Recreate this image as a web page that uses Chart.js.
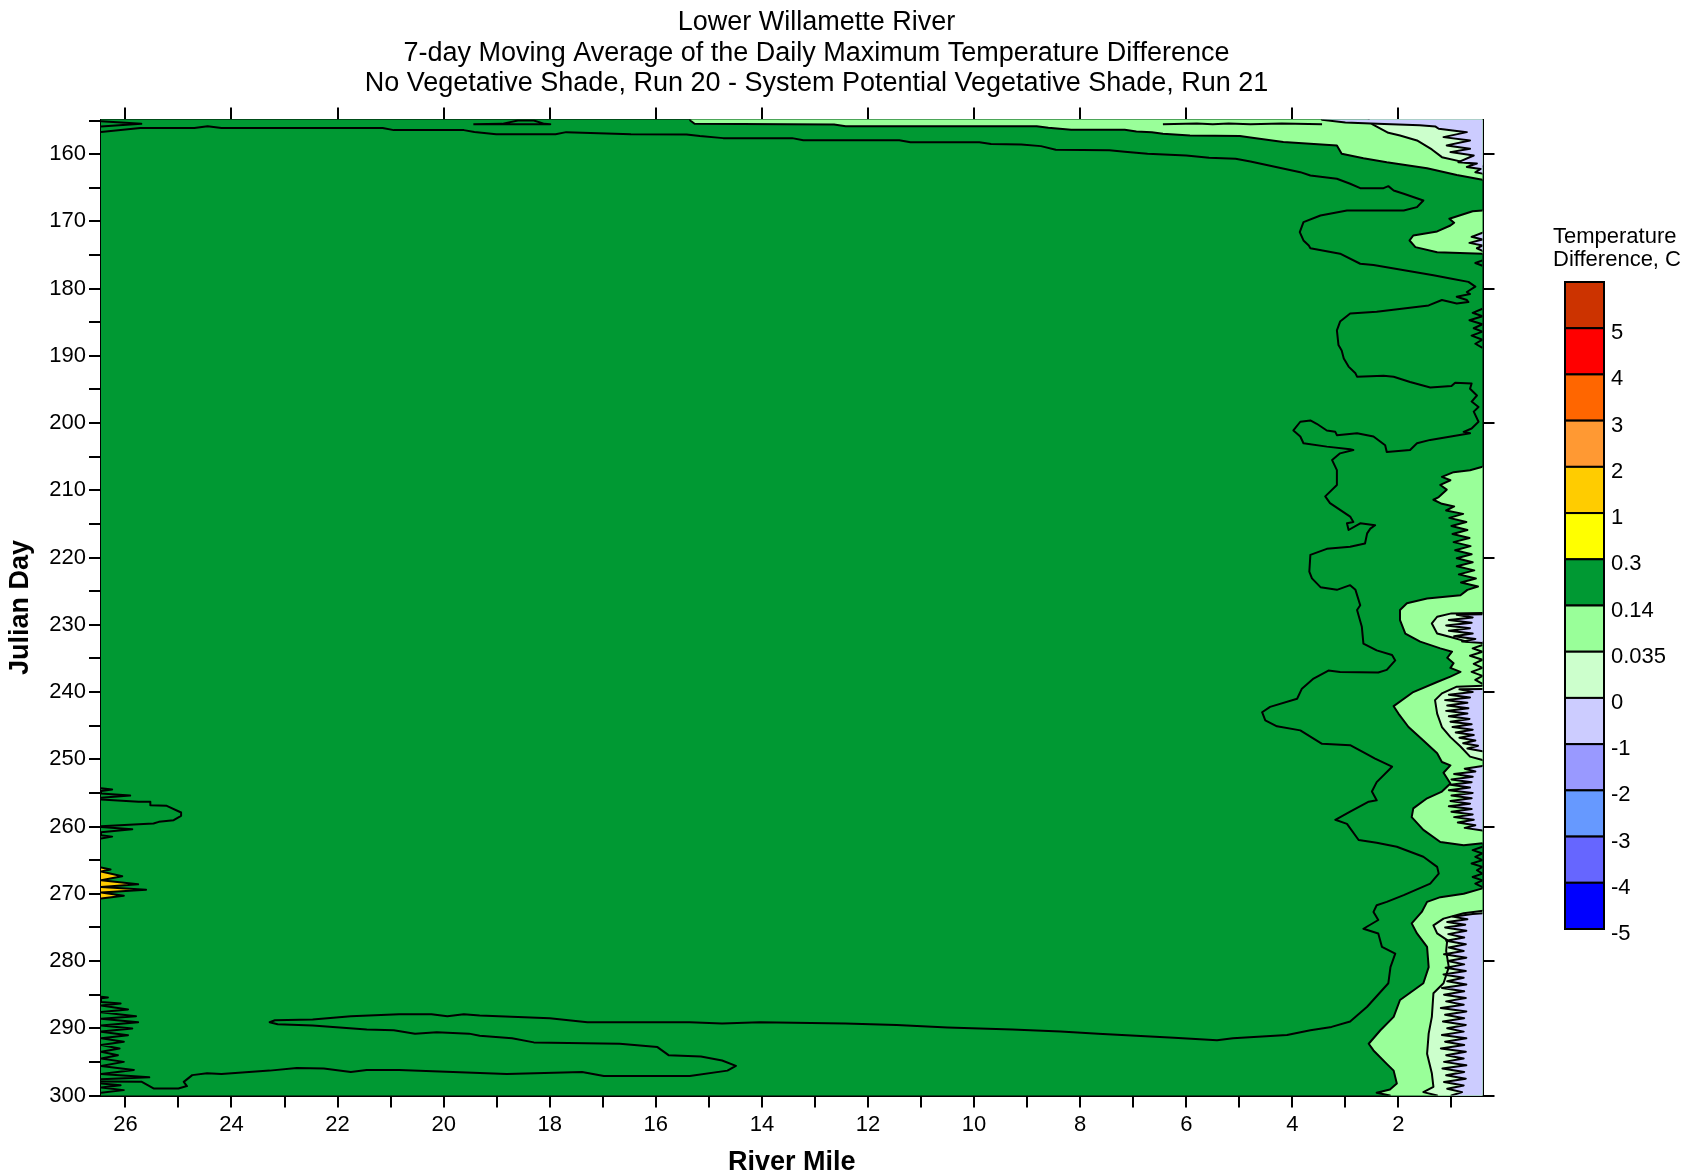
<!DOCTYPE html>
<html>
<head>
<meta charset="utf-8">
<title>Lower Willamette River</title>
<script src="https://cdn.jsdelivr.net/npm/chart.js@4.4.1/dist/chart.umd.min.js"></script>
<style>
  html, body { margin: 0; padding: 0; background: #fff; }
  #wrap { width: 1690px; height: 1176px; }
</style>
</head>
<body>
<div id="wrap"><canvas id="c" width="1690" height="1176"></canvas></div>
<script>
// ---------------- DATA (river mile, julian day) ----------------
const titleLines = [
  'Lower Willamette River',
  '7-day Moving Average of the Daily Maximum Temperature Difference',
  'No Vegetative Shade, Run 20 - System Potential Vegetative Shade, Run 21'
];
const xAxisTitle = 'River Mile';
const yAxisTitle = 'Julian Day';
const legendTitle = ['Temperature', 'Difference, C'];
const levelLabels = ['5', '4', '3', '2', '1', '0.3', '0.14', '0.035', '0', '-1', '-2', '-3', '-4', '-5'];
const levelColors = ['#CC3300', '#FF0000', '#FF6600', '#FF9933', '#FFCC00', '#FFFF00', '#009933',
                     '#99FF99', '#CCFFCC', '#CCCCFF', '#9999FF', '#6699FF', '#6666FF', '#0000FF'];
const mileRange = [0.415, 26.46];
const dayRange = [154.85, 300];

// band 0.14 - 0.3 (covers the whole domain)
const greenBase = [[26.7,153],[0.2,153],[0.2,302],[26.7,302]];

// band 0.035 - 0.14
const lightGreenTop = [[15.35,153],[15.35,155.0],[15.27,155.49],[12.64,155.58],[12.42,155.84],[8.82,155.84],[8.6,156.09],[8.17,156.39],[7.16,156.39],[6.94,156.63],[6.65,156.73],[6.44,156.98],[5.93,157.22],[4.99,157.32],[4.79,157.52],[4.17,158.2],[3.16,158.7],[3.07,159.95],[2.66,160.6],[2.22,161.2],[1.46,162.1],[0.9,163.1],[0.415,163.8],[0.2,163.9],[0.2,153]];
const lightGreenMid = [[0.2,168.3],[0.415,168.38],[0.6,168.5],[1.04,169.62],[0.95,170.2],[1.02,170.61],[1.27,171.5],[1.72,172.1],[1.79,172.84],[1.68,173.83],[1.27,174.58],[0.415,174.8],[0.2,174.8]];
const lightGreenLow1 = [[0.2,206.4],[0.415,206.5],[0.65,207.0],[0.96,207.3],[1.18,208.0],[1.02,208.5],[1.21,209.2],[1.09,209.9],[1.24,211.0],[1.34,211.4],[1.18,212.0],[0.95,212.4],[1.1,213.0],[0.78,213.5],[1.04,214.1],[0.72,214.7],[1.0,215.3],[0.7,215.9],[0.98,216.5],[0.66,217.1],[0.96,217.7],[0.64,218.3],[0.93,218.9],[0.62,219.5],[0.9,220.1],[0.6,220.7],[0.9,221.3],[0.57,221.9],[0.86,222.5],[0.54,223.1],[0.82,223.7],[0.5,224.3],[0.7,224.8],[0.83,225.6],[1.46,226.1],[1.84,226.8],[1.97,227.8],[1.97,229.3],[1.87,231.3],[1.59,232.5],[1.21,233.5],[0.99,234.0],[1.08,234.9],[0.96,235.7],[1.02,236.4],[0.83,237.0],[1.02,237.7],[1.27,238.5],[1.72,240.0],[2.09,242.1],[2.0,243.2],[1.81,245.2],[1.53,247.2],[1.27,249.1],[1.18,250.4],[1.02,250.9],[1.15,252.0],[1.02,253.6],[1.18,254.8],[1.46,255.8],[1.72,257.3],[1.75,258.6],[1.53,260.5],[1.21,262.3],[0.77,262.8],[0.415,262.5],[0.2,262.5]];
const lightGreenLow2 = [[0.2,269.1],[0.415,269.2],[0.77,270.0],[1.21,270.5],[1.46,271.2],[1.56,272.7],[1.75,274.4],[1.65,275.9],[1.46,277.9],[1.43,280.9],[1.53,283.3],[1.97,285.8],[2.09,288.3],[2.34,290.3],[2.56,292.3],[2.47,293.3],[2.22,295.3],[2.09,296.3],[2.03,298.2],[2.16,299.1],[2.41,299.6],[2.16,300],[2.1,302],[0.2,302]];

// band 0 - 0.035
const paleGreenTop = [[2.6,153],[2.55,155.2],[2.47,155.64],[2.19,156.83],[1.97,157.22],[1.65,157.97],[1.37,159.3],[1.18,160.45],[0.77,161.19],[0.415,161.8],[0.2,161.9],[0.2,153]];
const paleGreen2 = [[0.2,228.2],[1.0,228.3],[1.27,228.8],[1.37,229.8],[1.27,231.3],[1.02,231.8],[0.71,232.5],[0.2,232.6]];
const paleGreen3 = [[0.2,239.0],[0.9,239.2],[1.18,240.2],[1.31,241.2],[1.27,243.2],[1.18,245.2],[1.02,246.7],[0.83,248.1],[0.65,249.6],[0.415,250.1],[0.2,250.1]];
const paleGreen4 = [[0.2,272.3],[0.77,272.9],[1.15,273.7],[1.34,274.7],[1.27,275.9],[1.08,276.9],[1.1,278.5],[1.05,280.9],[1.15,283.3],[1.34,284.8],[1.37,288.3],[1.43,290.8],[1.46,293.8],[1.37,296.7],[1.34,298.7],[1.53,299.5],[1.27,300],[1.25,302],[0.2,302]];

// band -1 - 0
const lavenderTop = [[3.5,153],[3.44,154.9],[3.0,155.3],[2.4,155.5],[1.6,155.7],[1.3,155.9],[1.24,156.23],[0.71,156.73],[1.15,157.47],[0.65,157.97],[1.09,158.7],[0.65,159.2],[1.02,159.7],[0.58,160.2],[0.87,161.2],[0.52,161.4],[0.71,161.9],[0.45,162.2],[0.55,162.7],[0.415,162.9],[0.2,162.9],[0.2,153]];
const lavenderMid = [[0.2,171.6],[0.415,171.7],[0.62,172.3],[0.415,172.7],[0.66,173.2],[0.415,173.6],[0.52,174.0],[0.415,174.4],[0.2,174.4]];
const lavender2 = [[0.2,228.4],[0.9,228.5],[0.6,228.9],[1.05,229.3],[0.62,229.7],[1.1,230.1],[0.65,230.5],[1.05,230.9],[0.6,231.3],[0.95,231.7],[0.55,232.1],[0.8,232.5],[0.415,232.7],[0.2,232.7]];
const lavender3 = [[0.2,239.5],[0.85,239.6],[0.6,240.0],[1.05,240.4],[0.65,240.8],[1.12,241.2],[0.7,241.6],[1.08,242.0],[0.68,242.4],[1.1,242.8],[0.7,243.2],[1.05,243.6],[0.66,244.0],[1.02,244.4],[0.62,244.8],[0.98,245.2],[0.6,245.6],[0.92,246.0],[0.58,246.4],[0.85,246.8],[0.55,247.2],[0.78,247.6],[0.5,248.0],[0.7,248.4],[0.415,248.8],[0.2,248.8]];
const lavender3b = [[0.2,251.0],[0.415,251.0],[0.75,251.4],[0.55,251.8],[0.95,252.2],[0.6,252.6],[1.0,253.0],[0.62,253.4],[1.02,253.8],[0.65,254.2],[1.05,254.6],[0.6,255.0],[1.0,255.4],[0.62,255.8],[1.02,256.2],[0.65,256.6],[1.05,257.0],[0.62,257.4],[1.0,257.8],[0.6,258.2],[0.95,258.6],[0.58,259.0],[0.88,259.4],[0.55,259.8],[0.75,260.2],[0.415,260.6],[0.2,260.6]];
const lavender4 = [[0.2,272.8],[0.6,273.0],[0.98,273.4],[0.7,273.8],[1.08,274.2],[0.74,274.6],[1.12,275.0],[0.72,275.5],[1.06,276.0],[0.76,276.5],[1.1,277.0],[0.73,277.5],[1.05,278.0],[0.77,278.5],[1.14,279.0],[0.72,279.5],[1.07,280.0],[0.76,280.5],[1.11,281.0],[0.73,281.5],[1.15,282.0],[0.77,282.5],[1.08,283.0],[0.72,283.5],[1.18,284.0],[0.76,284.5],[1.14,285.0],[0.73,285.5],[1.1,286.0],[0.77,286.5],[1.2,287.0],[0.72,287.5],[1.12,288.0],[0.76,288.5],[1.16,289.0],[0.73,289.5],[1.08,290.0],[0.77,290.5],[1.18,291.0],[0.72,291.5],[1.12,292.0],[0.76,292.5],[1.2,293.0],[0.73,293.5],[1.1,294.0],[0.77,294.5],[1.14,295.0],[0.72,295.5],[1.17,296.0],[0.76,296.5],[1.1,297.0],[0.73,297.5],[1.14,298.0],[0.77,298.5],[1.08,299.0],[0.8,299.5],[1.0,300],[1.0,302],[0.2,302]];

// band 1 - 2
const goldTeeth = [[26.7,266.1],[26.46,266.1],[26.28,266.4],[26.46,266.7],[26.06,267.4],[26.46,268.0],[25.76,268.6],[26.46,269.0],[25.61,269.4],[26.46,269.8],[26.03,270.3],[26.46,270.7],[26.7,270.7]];

// contour lines inside the 0.14 - 0.3 band
const contourMain = [[26.46,156.7],[25.72,156.1],[24.7,156.1],[24.45,155.84],[24.19,156.1],[21.15,156.1],[20.94,156.43],[19.62,156.43],[19.42,156.7],[19.01,157.03],[17.89,157.03],[17.69,156.73],[16.47,157.03],[15.42,157.07],[15.17,157.32],[14.73,157.62],[13.43,157.62],[13.22,157.92],[11.41,157.92],[11.2,158.22],[9.9,158.22],[9.68,158.51],[9.11,158.56],[8.74,158.81],[8.46,159.36],[7.45,159.41],[7.16,159.66],[6.73,159.96],[6.0,160.2],[5.57,160.55],[5.07,160.7],[4.79,161.09],[3.85,162.68],[3.66,163.17],[3.16,163.67],[2.91,164.41],[2.72,165.06],[2.28,165.06],[2.19,164.76],[2.09,165.4],[1.9,165.9],[1.53,166.89],[1.65,167.88],[1.9,168.38],[2.97,168.38],[3.47,169.12],[3.79,170.11],[3.86,171.6],[3.79,172.84],[3.69,173.6],[3.66,174.0],[3.1,174.8],[2.72,176.3],[2.47,176.5],[1.34,178.0],[1.02,178.5],[0.68,179.0],[0.55,179.7],[0.71,180.5],[0.65,180.8],[0.9,181.2],[0.71,181.7],[0.68,182.0],[0.9,182.2],[1.18,181.7],[1.43,182.5],[2.41,183.45],[2.91,183.7],[3.1,184.9],[3.16,186.2],[3.13,188.4],[3.07,189.2],[3.03,190.4],[2.94,191.6],[2.81,192.6],[2.78,193.1],[2.28,192.97],[2.09,193.1],[1.78,193.9],[1.4,194.7],[1.0,194.5],[0.93,194.0],[0.62,194.1],[0.65,194.9],[0.52,195.9],[0.62,196.8],[0.49,197.6],[0.58,198.3],[0.49,199.8],[0.62,200.8],[0.77,201.3],[0.65,201.5],[1.4,202.5],[1.65,203.0],[1.78,204.0],[2.22,204.3],[2.25,203.3],[2.47,202.0],[2.78,201.5],[3.16,201.8],[3.19,201.3],[3.35,201.1],[3.54,200.1],[3.66,199.6],[3.85,199.8],[3.98,201.1],[3.85,202.0],[3.79,203.0],[3.35,203.5],[2.91,203.9],[2.85,204.0],[3.1,204.5],[3.25,205.5],[3.16,207.0],[3.16,209.2],[3.38,210.9],[3.29,211.9],[2.91,213.9],[2.85,214.7],[2.97,214.9],[2.94,215.9],[2.72,214.9],[2.44,215.2],[2.53,215.7],[2.59,216.4],[2.63,217.9],[2.91,218.4],[3.35,218.7],[3.66,219.6],[3.68,222.1],[3.63,223.1],[3.47,224.4],[3.16,224.8],[2.91,224.1],[2.81,224.8],[2.72,227.1],[2.78,227.8],[2.69,230.3],[2.66,232.8],[2.41,233.8],[2.12,234.5],[2.06,235.3],[2.22,236.7],[2.38,237.1],[3.1,237.0],[3.32,236.8],[3.6,238.0],[3.82,239.5],[3.91,241.0],[4.42,242.2],[4.57,243.0],[4.51,244.2],[4.29,245.1],[3.85,245.7],[3.44,247.7],[2.91,247.9],[2.63,249.1],[2.44,249.9],[2.12,251.1],[2.41,253.4],[2.5,254.8],[2.41,256.1],[2.56,256.3],[2.91,257.8],[3.19,259.0],[2.97,259.6],[2.75,262.0],[2.41,262.4],[2.03,263.0],[1.53,264.5],[1.27,266.0],[1.24,267.0],[1.4,268.5],[1.9,270.2],[2.22,271.2],[2.41,271.7],[2.47,272.7],[2.38,273.9],[2.66,275.2],[2.38,275.9],[2.31,277.9],[2.06,278.9],[2.15,280.9],[2.19,283.3],[2.59,286.8],[2.91,289.0],[3.26,289.8],[3.66,290.3],[4.1,291.0],[5.12,291.5],[5.42,291.8],[6.23,291.4],[7.66,290.8],[8.37,290.5],[9.28,290.2],[10.5,289.9],[11.46,289.5],[12.43,289.3],[14.04,289.1],[14.75,289.3],[15.36,289.1],[17.29,289.1],[18.0,288.5],[19.32,288.1],[19.62,287.9],[19.93,288.2],[20.23,287.9],[20.84,287.9],[21.75,288.2],[22.47,288.7],[23.18,288.8],[23.28,289.1],[23.13,289.4],[22.47,289.6],[21.45,290.2],[20.94,290.3],[20.54,290.8],[20.13,290.6],[19.52,290.8],[19.32,291.1],[18.71,291.5],[18.3,292.1],[16.68,292.3],[15.97,292.8],[15.76,294.0],[15.15,294.2],[14.75,294.8],[14.49,295.6],[14.65,296.3],[15.36,297.1],[16.98,297.1],[17.39,296.5],[18.81,296.8],[20.84,296.2],[21.45,296.2],[21.75,296.5],[22.26,296.0],[22.77,295.9],[23.28,296.3],[24.19,296.8],[24.46,296.7],[24.74,296.97],[24.9,297.97],[24.84,298.6],[25.0,298.95],[25.47,298.95],[25.69,297.97],[26.46,297.9]];
const contourTopStrip = [[6.44,155.55],[5.8,155.45],[5.5,155.55],[5.2,155.45],[4.79,155.55],[4.2,155.45],[3.44,155.55]];
const contourTopLens = [[19.44,155.55],[18.9,155.5],[18.6,155.0],[18.3,155.0],[18.1,155.5],[17.99,155.55],[19.44,155.55]];
const contourTopLeft = [[26.46,155.1],[25.7,155.5],[26.46,155.9]];
const contourLeftBulge = [[26.46,255.98],[25.75,256.33],[25.53,256.33],[25.53,256.82],[25.22,256.92],[24.95,257.91],[24.95,258.41],[25.09,259.05],[25.37,259.3],[25.47,259.55],[25.75,259.65],[26.46,259.95]];
const contourLeftTeeth1 = [[26.46,254.3],[26.25,254.5],[26.46,254.7],[26.46,255.09],[25.91,255.4],[26.46,255.73]];
const contourLeftTeeth2 = [[26.46,260.05],[25.87,260.4],[26.46,260.84],[26.46,261.3],[26.25,261.5],[26.46,261.8]];
const contourLeftTeeth3 = [[26.46,285.3],[26.33,285.43],[26.46,285.55],[26.46,286.1],[26.09,286.32],[26.46,286.6],[25.95,287.2],[26.46,287.6],[25.8,288.2],[26.46,288.6],[25.76,289.1],[26.46,289.6],[25.87,290.04],[26.46,290.5],[25.95,291.03],[26.46,291.5],[26.03,292.02],[26.46,292.5],[26.11,293.02],[26.46,293.5],[26.14,294.0],[26.46,294.5],[26.03,295.0],[26.46,295.6],[25.84,296.2],[26.46,296.8],[25.55,297.3],[26.46,297.6]];
const contourLeftTeeth4 = [[26.46,298.2],[26.09,298.47],[26.46,298.8],[26.03,299.2],[26.46,299.6]];
const contourEdgeTeeth1 = [[0.415,175.8],[0.55,176.2],[0.415,176.6]];
const contourEdgeTeeth2 = [[0.415,183.0],[0.6,183.6],[0.415,184.1],[0.66,184.7],[0.415,185.3],[0.58,185.9],[0.415,186.4],[0.62,187.0],[0.415,187.6],[0.55,188.2],[0.415,188.8]];
const contourEdgeTeeth3 = [[0.415,263.0],[0.6,263.5],[0.415,264.0],[0.55,264.5],[0.415,265.0],[0.62,265.5],[0.415,266.0],[0.52,266.5],[0.415,267.0],[0.6,267.5],[0.415,268.0],[0.55,268.5],[0.415,269.0]];
const contourEdgeTeeth4 = [[0.415,233.0],[0.6,233.5],[0.415,234.0],[0.65,234.6],[0.415,235.2],[0.58,235.8],[0.415,236.4],[0.62,237.0],[0.415,237.6],[0.55,238.2],[0.415,238.8]];

// ---------------- CHART ----------------
const FONT = "'Liberation Sans', Arial, Helvetica, sans-serif";
Chart.defaults.font.family = FONT;
Chart.defaults.color = '#000';

const toXY = pts => pts.map(p => ({ x: p[0], y: p[1] }));
function region(pts, color, outlined = true) {
  return {
    data: toXY(pts), fill: 'shape', backgroundColor: color,
    borderColor: outlined ? '#000' : 'rgba(0,0,0,0)', borderWidth: outlined ? 2 : 1,
    borderJoinStyle: 'round', pointRadius: 0, tension: 0
  };
}
function contour(pts) {
  return {
    data: toXY(pts), fill: false, borderColor: '#000', borderWidth: 2,
    borderJoinStyle: 'round', pointRadius: 0, tension: 0
  };
}

const datasets = [
  region(greenBase, levelColors[6], false),
  region(lightGreenTop, levelColors[7]),
  region(paleGreenTop, levelColors[8]),
  region(lavenderTop, levelColors[9]),
  region(lightGreenMid, levelColors[7]),
  region(lavenderMid, levelColors[9]),
  region(lightGreenLow1, levelColors[7]),
  region(lightGreenLow2, levelColors[7]),
  region(paleGreen2, levelColors[8]),
  region(paleGreen3, levelColors[8]),
  region(paleGreen4, levelColors[8]),
  region(lavender2, levelColors[9]),
  region(lavender3, levelColors[9]),
  region(lavender3b, levelColors[9]),
  region(lavender4, levelColors[9]),
  region(goldTeeth, levelColors[4]),
  contour(contourMain),
  contour(contourTopStrip),
  contour(contourTopLens),
  contour(contourTopLeft),
  contour(contourLeftBulge),
  contour(contourLeftTeeth1),
  contour(contourLeftTeeth2),
  contour(contourLeftTeeth3),
  contour(contourLeftTeeth4),
  contour(contourEdgeTeeth1),
  contour(contourEdgeTeeth2),
  contour(contourEdgeTeeth3),
  contour(contourEdgeTeeth4)
];
datasets.forEach((d, i) => { d.order = datasets.length - i; });

const titlePlugin = {
  id: 'threeLineTitle',
  afterDraw(chart) {
    const ctx = chart.ctx;
    ctx.save();
    ctx.fillStyle = '#000';
    ctx.font = '27px ' + FONT;
    ctx.textAlign = 'center';
    ctx.textBaseline = 'alphabetic';
    const baselines = [30, 60.5, 91];
    titleLines.forEach((t, i) => ctx.fillText(t, 816.5, baselines[i]));
    ctx.restore();
  }
};

const colorbarPlugin = {
  id: 'colorbar',
  afterDraw(chart) {
    const ctx = chart.ctx;
    const left = 1565, right = 1604, top = 282, bottom = 929;
    const h = (bottom - top) / levelColors.length;
    ctx.save();
    ctx.fillStyle = '#000';
    ctx.font = '22px ' + FONT;
    ctx.textAlign = 'left';
    ctx.textBaseline = 'alphabetic';
    ctx.fillText(legendTitle[0], 1553, 242.5);
    ctx.fillText(legendTitle[1], 1553, 265.5);
    levelColors.forEach((c, i) => {
      const y0 = top + i * h;
      ctx.fillStyle = c;
      ctx.fillRect(left, y0, right - left, h);
      ctx.strokeStyle = '#000';
      ctx.lineWidth = 2;
      ctx.strokeRect(left, y0, right - left, h);
    });
    ctx.fillStyle = '#000';
    ctx.textBaseline = 'middle';
    levelLabels.forEach((t, i) => {
      ctx.fillText(t, 1611, top + (i + 1) * h + 5);
    });
    ctx.restore();
  }
};

const gridCfg = { drawOnChartArea: false, drawTicks: true, tickLength: 12, color: '#000', lineWidth: 2, tickWidth: 2 };
const borderCfg = { display: true, color: '#000', width: 2 };

new Chart(document.getElementById('c'), {
  type: 'line',
  data: { datasets },
  options: {
    responsive: false,
    animation: false,
    events: [],
    layout: { padding: { left: 0, right: 195.5, top: 107.5, bottom: 0 } },
    plugins: { legend: { display: false }, tooltip: { enabled: false }, title: { display: false } },
    scales: {
      x: {
        type: 'linear', position: 'bottom', reverse: true,
        min: mileRange[0], max: mileRange[1],
        grid: gridCfg, border: borderCfg,
        ticks: {
          stepSize: 1, includeBounds: false, autoSkip: false, maxRotation: 0, padding: 4,
          font: { size: 22 }, color: '#000',
          callback: v => (Math.round(v) % 2 === 0 ? String(v) : '')
        },
        title: { display: true, text: xAxisTitle, color: '#000',
                 font: { size: 27, weight: 'bold', lineHeight: 1 }, padding: { top: 0, bottom: 0 } },
        afterFit: s => { s.height = 80.5; }
      },
      x2: {
        type: 'linear', position: 'top', reverse: true,
        min: mileRange[0], max: mileRange[1],
        grid: gridCfg, border: borderCfg,
        ticks: { display: false, stepSize: 2, includeBounds: false, autoSkip: false },
        afterFit: s => { s.height = 12; }
      },
      y: {
        type: 'linear', position: 'left', reverse: true,
        min: dayRange[0], max: dayRange[1],
        grid: gridCfg, border: borderCfg,
        ticks: {
          stepSize: 5, includeBounds: false, autoSkip: false, padding: 3,
          font: { size: 22 }, color: '#000',
          callback: v => (Math.round(v) % 10 === 0 ? String(v) : '')
        },
        title: { display: true, text: yAxisTitle, color: '#000',
                 font: { size: 27, weight: 'bold', lineHeight: 1 }, padding: { top: 7, bottom: 0 } },
        afterFit: s => { s.width = 101; }
      },
      y2: {
        type: 'linear', position: 'right', reverse: true,
        min: dayRange[0], max: dayRange[1],
        grid: gridCfg, border: borderCfg,
        ticks: { display: false, stepSize: 20, includeBounds: false, autoSkip: false },
        afterFit: s => { s.width = 12; }
      }
    }
  },
  plugins: [titlePlugin, colorbarPlugin]
});
</script>
</body>
</html>
